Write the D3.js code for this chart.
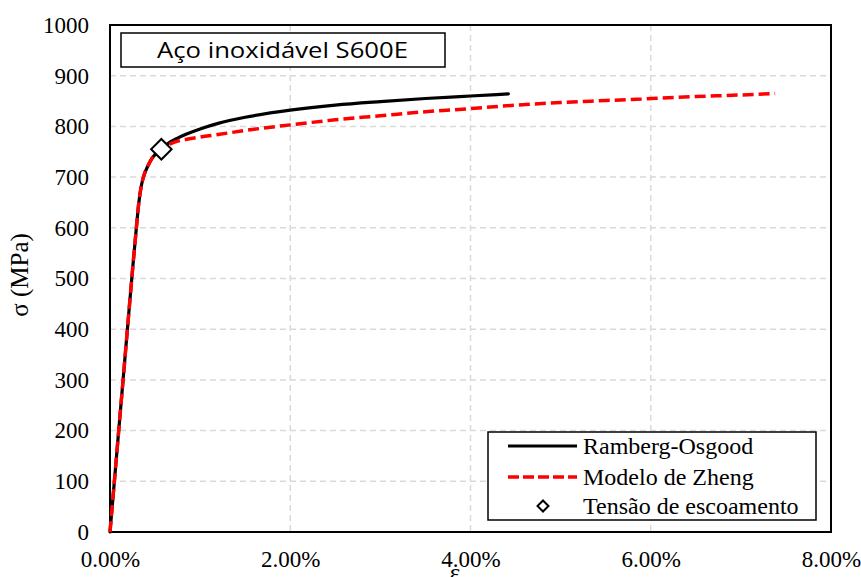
<!DOCTYPE html>
<html>
<head>
<meta charset="utf-8">
<script src="https://cdn.jsdelivr.net/npm/d3@7"></script>
<style>
  html, body { margin: 0; padding: 0; background: #fff; }
  svg { display: block; }
</style>
</head>
<body>
<svg id="chart" width="861" height="577"></svg>
<script>
// ---- data (strain in %, stress in MPa) ----
const roStrain = [0, 0.05, 0.10, 0.15, 0.20, 0.25, 0.29, 0.32, 0.35, 0.38, 0.42, 0.47, 0.52, 0.57, 0.65, 0.75, 0.85, 1.0, 1.2, 1.5, 2.0, 2.5, 3.0, 3.5, 4.0, 4.42];
const roStress = [0, 103, 207, 310, 414, 517, 595, 650, 685, 705, 722, 738, 748, 755, 767, 777, 785, 795, 806, 818, 832, 842, 849, 855, 860, 864];

const zhStrain = [0, 0.05, 0.10, 0.15, 0.20, 0.25, 0.29, 0.32, 0.35, 0.38, 0.42, 0.47, 0.52, 0.57, 0.65, 0.75, 0.9, 1.0, 1.2, 1.5, 2.0, 2.5, 3.0, 3.5, 4.0, 4.5, 5.0, 5.5, 6.0, 6.5, 7.0, 7.38];
const zhStress = [0, 103, 207, 310, 414, 517, 595, 650, 685, 705, 722, 738, 748, 755, 764, 771, 776, 779, 784, 792, 803, 813, 821, 829, 835, 842, 847, 851, 855, 859, 862, 865];

const yieldStrain = [0.57];
const yieldStress = [755];

const xTicks = [0, 2, 4, 6, 8];
const yTicks = [0, 100, 200, 300, 400, 500, 600, 700, 800, 900, 1000];

const titleText = "Aço inoxidável S600E";
const legendLabels = ["Ramberg-Osgood", "Modelo de Zheng", "Tensão de escoamento"];

// ---- layout ----
const svg = d3.select("#chart");
const L = 110, R = 831, T = 25, B = 532;
const x = d3.scaleLinear().domain([0, 8]).range([L, R]);
const y = d3.scaleLinear().domain([0, 1000]).range([B, T]);
const serif = "'Liberation Serif', 'Times New Roman', serif";

// grid
svg.append("g").selectAll("line").data(yTicks.filter(d => d > 0 && d < 1000)).join("line")
  .attr("x1", L).attr("x2", R).attr("y1", d => y(d)).attr("y2", d => y(d))
  .attr("stroke", "#d9d9d9").attr("stroke-width", 1.5).attr("stroke-dasharray", "6,4");
svg.append("g").selectAll("line").data(xTicks.filter(d => d > 0 && d < 8)).join("line")
  .attr("y1", T).attr("y2", B).attr("x1", d => x(d)).attr("x2", d => x(d))
  .attr("stroke", "#d9d9d9").attr("stroke-width", 1.5).attr("stroke-dasharray", "6,4");

// axes (labels only)
const yAxis = d3.axisLeft(y).tickValues(yTicks).tickSize(0).tickPadding(21).tickFormat(d3.format("d"));
const gy = svg.append("g").attr("transform", `translate(${L},0)`).call(yAxis);
gy.select(".domain").remove();
gy.selectAll("text").attr("font-family", serif).attr("font-size", 23).attr("fill", "#000");

const xAxis = d3.axisBottom(x).tickValues(xTicks).tickSize(0).tickPadding(19).tickFormat(d => d3.format(".2f")(d) + "%");
const gx = svg.append("g").attr("transform", `translate(0,${B})`).call(xAxis);
gx.select(".domain").remove();
gx.selectAll("text").attr("font-family", serif).attr("font-size", 23).attr("fill", "#000");

// plot border
svg.append("rect").attr("x", L).attr("y", T).attr("width", R - L).attr("height", B - T)
  .attr("fill", "none").attr("stroke", "#000").attr("stroke-width", 2);

// axis titles
svg.append("text").attr("transform", `translate(28,275) rotate(-90)`)
  .attr("text-anchor", "middle").attr("font-family", serif).attr("font-size", 25).text("σ (MPa)");
svg.append("text").attr("x", 455).attr("y", 581).attr("text-anchor", "middle")
  .attr("font-family", serif).attr("font-size", 25).text("ε");

// lines
const line = d3.line().x(d => x(d[0])).y(d => y(d[1])).curve(d3.curveMonotoneX);
const roData = roStrain.map((v, i) => [v, roStress[i]]);
const zhData = zhStrain.map((v, i) => [v, zhStress[i]]);

svg.append("path").datum(roData).attr("d", line)
  .attr("fill", "none").attr("stroke", "#000").attr("stroke-width", 3.2).attr("stroke-linecap", "round");
svg.append("path").datum(zhData).attr("d", line)
  .attr("fill", "none").attr("stroke", "#ff0000").attr("stroke-width", 3.5).attr("stroke-dasharray", "11,5");

// yield marker
svg.append("g").selectAll("path").data(yieldStrain.map((v, i) => [v, yieldStress[i]])).join("path")
  .attr("transform", d => `translate(${x(d[0])},${y(d[1])}) rotate(45)`)
  .attr("d", d3.symbol().type(d3.symbolSquare).size(210)())
  .attr("fill", "#fff").attr("stroke", "#000").attr("stroke-width", 2);

// title box
svg.append("rect").attr("x", 121).attr("y", 33).attr("width", 324).attr("height", 34)
  .attr("fill", "#fff").attr("stroke", "#000").attr("stroke-width", 1.5);
svg.append("text").attr("x", 157).attr("y", 58)
  .attr("font-family", "'Open Sans', Lato, sans-serif").attr("font-size", 21.5)
  .attr("textLength", 251).attr("lengthAdjust", "spacingAndGlyphs").text(titleText);

// legend
const lg = svg.append("g");
lg.append("rect").attr("x", 488).attr("y", 432).attr("width", 328).attr("height", 88)
  .attr("fill", "#fff").attr("stroke", "#000").attr("stroke-width", 1.5);
const rowY = [446, 477, 506];
lg.append("line").attr("x1", 508).attr("x2", 577).attr("y1", rowY[0]).attr("y2", rowY[0])
  .attr("stroke", "#000").attr("stroke-width", 3.2);
lg.append("line").attr("x1", 508).attr("x2", 577).attr("y1", rowY[1]).attr("y2", rowY[1])
  .attr("stroke", "#ff0000").attr("stroke-width", 3.5).attr("stroke-dasharray", "11,4");
lg.append("path").attr("transform", `translate(543,${rowY[2]}) rotate(45)`)
  .attr("d", d3.symbol().type(d3.symbolSquare).size(60)())
  .attr("fill", "#fff").attr("stroke", "#000").attr("stroke-width", 2);
lg.selectAll("text.lab").data(legendLabels).join("text").attr("class", "lab")
  .attr("x", 583).attr("y", (d, i) => rowY[i] + 8)
  .attr("font-family", serif).attr("font-size", 24).text(d => d);
</script>
</body>
</html>
